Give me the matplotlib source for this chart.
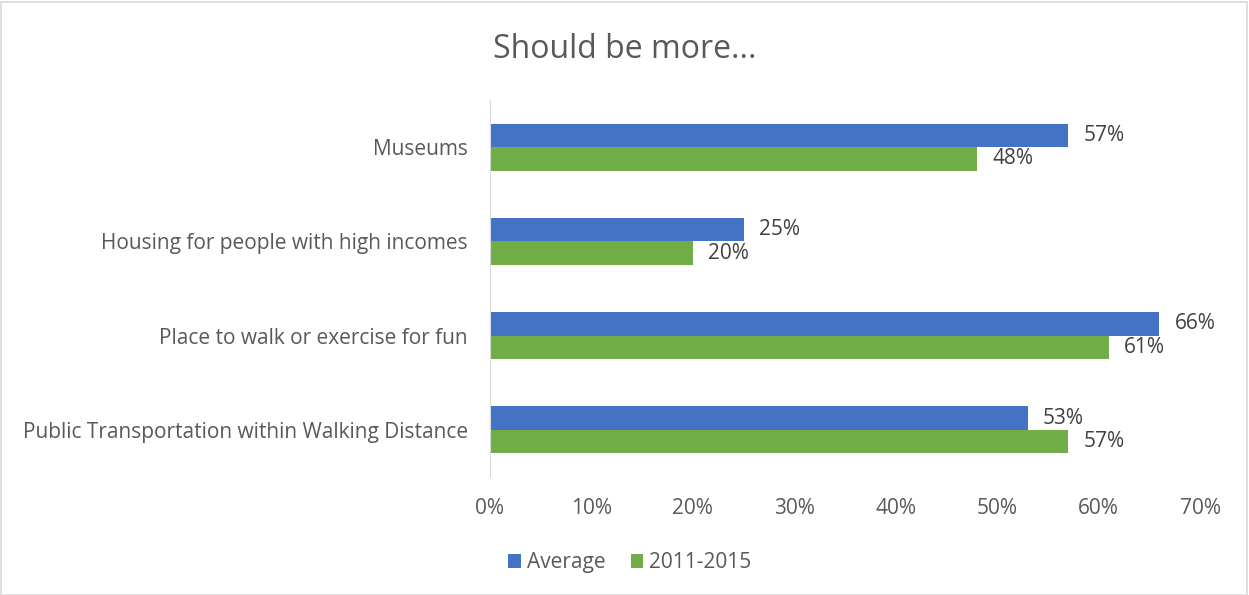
import matplotlib
matplotlib.use("Agg")
import matplotlib.pyplot as plt
from matplotlib.patches import Rectangle
import numpy as np

categories = [
    "Museums",
    "Housing for people with high incomes",
    "Place to walk or exercise for fun",
    "Public Transportation within Walking Distance",
]
average = [57, 25, 66, 53]
period_2011_2015 = [48, 20, 61, 57]
series_names = ["Average", "2011-2015"]
xticks = [0, 10, 20, 30, 40, 50, 60, 70]

BLUE = "#4472C4"
GREEN = "#70AD47"
TEXT = "#595959"

plt.rcParams["font.family"] = ["Open Sans", "DejaVu Sans"]

fig = plt.figure(figsize=(12.49, 5.95), dpi=100)
ax = fig.add_axes([0.3923, 0.1983, 0.5685, 0.6336])

n = len(categories)
y = np.arange(n)[::-1].astype(float)  # Museums at top
h = 0.25
b1 = ax.barh(y + h / 2, average, height=h, color=BLUE, label=series_names[0])
b2 = ax.barh(y - h / 2, period_2011_2015, height=h, color=GREEN, label=series_names[1])

for bars, vals in ((b1, average), (b2, period_2011_2015)):
    for bar, v in zip(bars, vals):
        ax.annotate(f"{v}%", (bar.get_width(), bar.get_y() + bar.get_height() / 2),
                    xytext=(11, 0), textcoords="offset points",
                    va="center", ha="left", fontsize=15, color="#404040")

ax.set_xlim(0, 70)
ax.set_ylim(-0.5, n - 0.5)
ax.set_xticks(xticks)
ax.set_xticklabels([f"{t}%" for t in xticks])
ax.set_yticks(y)
ax.set_yticklabels(categories)
ax.tick_params(axis="both", length=0, labelsize=15, colors=TEXT)
ax.tick_params(axis="x", pad=15)
ax.tick_params(axis="y", pad=16)
for s in ("top", "right", "bottom"):
    ax.spines[s].set_visible(False)
ax.spines["left"].set_color("#d9d9d9")

fig.suptitle("Should be more...", x=0.5, y=0.945, fontsize=23, color=TEXT)

ax.legend(loc="upper center", bbox_to_anchor=(0.197, -0.15), ncol=2, frameon=False,
          fontsize=15, labelcolor=TEXT, handlelength=0.6, handleheight=0.6,
          handletextpad=0.3, columnspacing=1.2)

fig.patches.append(Rectangle((0.0005, 0.0), 0.998, 0.996, transform=fig.transFigure,
                             fill=False, edgecolor="#d9d9d9", linewidth=1.2))

fig.savefig("out.png", dpi=100)
